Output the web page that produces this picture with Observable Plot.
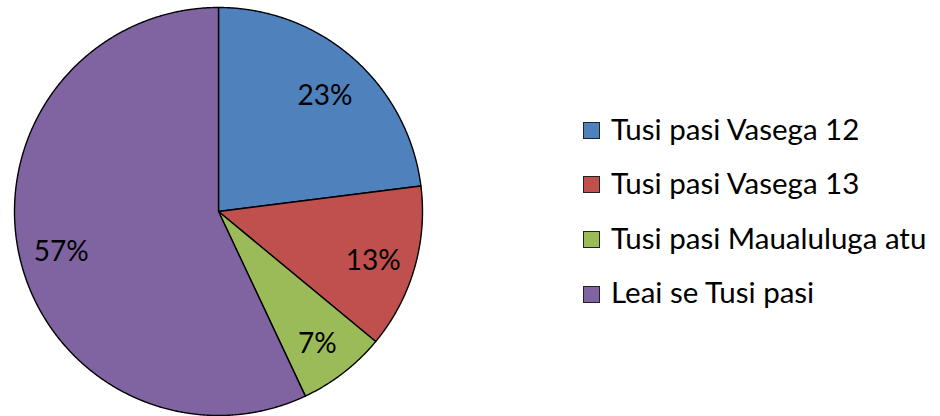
<!DOCTYPE html>
<html>
<head>
<meta charset="utf-8">
<script src="https://cdn.jsdelivr.net/npm/d3@7"></script>
<script src="https://cdn.jsdelivr.net/npm/@observablehq/plot@0.6"></script>
<style>
  html, body { margin: 0; padding: 0; background: #fff; }
  #wrap { position: relative; width: 940px; height: 416px; font-family: Lato, "Open Sans", sans-serif; }
  #legend { position: absolute; left: 583px; top: 101px; }
  .row { display: flex; align-items: center; height: 54.6px; }
  .sw { width: 15px; height: 15px; border: 1.3px solid #222; margin-right: 11px; box-sizing: content-box; position: relative; top: 2px; }
  .lbl { font-size: 29.5px; color: #000; line-height: 1; white-space: nowrap; }
</style>
</head>
<body>
<div id="wrap"></div>
<script>
const categories = ["Tusi pasi Vasega 12", "Tusi pasi Vasega 13", "Tusi pasi Maualuluga atu", "Leai se Tusi pasi"];
const values = [23, 13, 7, 57];
const labels = ["23%", "13%", "7%", "57%"];
const colors = ["#4F81BD", "#C0504D", "#9BBB59", "#8064A2"];

const pie = d3.pie().sort(null).value(d => d.value)(categories.map((c, i) => ({cat: c, value: values[i], label: labels[i]})));

// Polygon outline of each slice (angles measured clockwise from 12 o'clock)
const polys = [];
for (const s of pie) {
  polys.push({cat: s.data.cat, x: 0, y: 0});
  const n = Math.max(2, Math.ceil((s.endAngle - s.startAngle) / 0.005));
  for (let k = 0; k <= n; k++) {
    const a = s.startAngle + (s.endAngle - s.startAngle) * k / n;
    polys.push({cat: s.data.cat, x: Math.sin(a), y: Math.cos(a)});
  }
  polys.push({cat: s.data.cat, x: 0, y: 0});
}
const labelR = 0.79;
const textPts = pie.map(s => {
  const a = (s.startAngle + s.endAngle) / 2;
  return {label: s.data.label, x: labelR * Math.sin(a), y: labelR * Math.cos(a)};
});

const chart = Plot.plot({
  width: 940,
  height: 416,
  margin: 0,
  x: {domain: [-1, 1], range: [14, 422], axis: null},
  y: {domain: [-1, 1], range: [415, 7], axis: null},
  color: {domain: categories, range: colors},
  style: {background: "#fff", fontFamily: "Lato, 'Open Sans', sans-serif"},
  marks: [
    Plot.line(polys, {x: "x", y: "y", z: "cat", fill: "cat", stroke: "#000", strokeWidth: 1.4, strokeLinejoin: "round"}),
    Plot.text(textPts, {x: "x", y: "y", text: "label", fontSize: 28, fill: "#000", textAnchor: "middle", lineAnchor: "middle", dy: 5})
  ]
});
const wrap = document.getElementById("wrap");
wrap.appendChild(chart);

const legend = document.createElement("div");
legend.id = "legend";
categories.forEach((c, i) => {
  const row = document.createElement("div");
  row.className = "row";
  const sw = document.createElement("div");
  sw.className = "sw";
  sw.style.background = colors[i];
  const t = document.createElement("span");
  t.className = "lbl";
  t.textContent = c;
  row.appendChild(sw);
  row.appendChild(t);
  legend.appendChild(row);
});
wrap.appendChild(legend);
</script>
</body>
</html>
